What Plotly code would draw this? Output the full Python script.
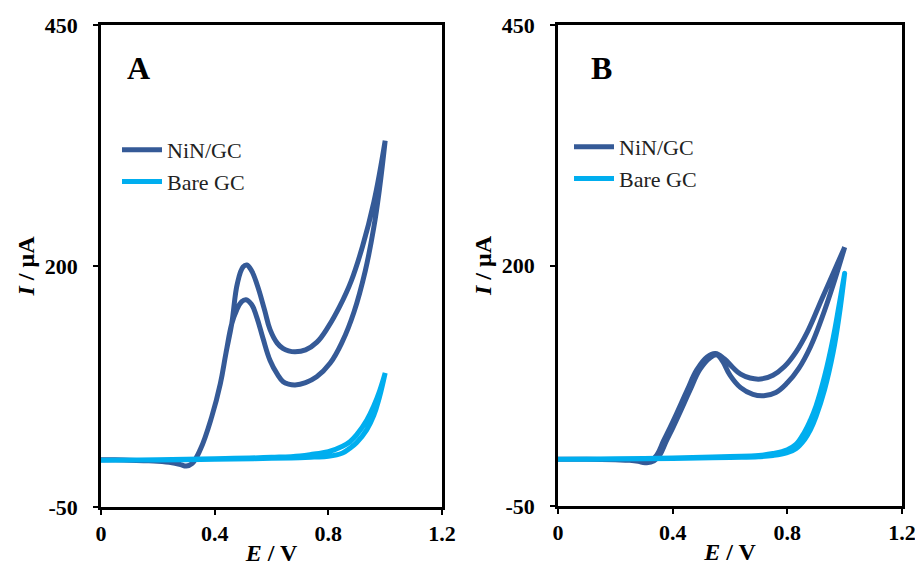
import plotly.graph_objects as go

# ---------------- Panel A data ----------------
# NiN/GC forward scan (0 -> 1.0 V), upper branch
A_nin_fwd_E = [0, 0.05, 0.1, 0.15, 0.2, 0.25, 0.28, 0.30, 0.32, 0.35, 0.39, 0.42, 0.44, 0.46,
               0.48, 0.50, 0.513, 0.53, 0.55, 0.575, 0.595, 0.62, 0.64, 0.66, 0.683, 0.72, 0.76,
               0.80, 0.84, 0.88, 0.92, 0.96, 1.0]
A_nin_fwd_I = [-1, -1, -1.5, -2, -2.5, -4, -6, -7.5, -5, 10, 44, 78, 110, 140,
               182, 199, 201, 195, 180, 155, 134, 120, 114.6, 112, 111, 113, 121,
               137, 158, 184, 220, 266, 330]
# NiN/GC reverse scan (1.0 -> 0 V), lower branch (listed in ascending E)
A_nin_rev_E = [0, 0.05, 0.1, 0.15, 0.2, 0.25, 0.28, 0.30, 0.32, 0.35, 0.39, 0.42, 0.44, 0.46,
               0.477, 0.495, 0.51, 0.53, 0.548, 0.57, 0.595, 0.62, 0.641, 0.66, 0.683, 0.72,
               0.759, 0.806, 0.85, 0.89, 0.93, 0.96, 0.98, 1.0]
A_nin_rev_I = [-1, -1, -1.5, -2, -2.5, -4, -6, -7.5, -5, 10, 44, 78, 110, 140,
               154, 163, 165, 160, 147, 125, 102, 88, 80, 77.5, 76.6, 79,
               85, 99, 122, 152, 195, 240, 280, 330]
# Bare GC
A_bare_E = [0, 0.2, 0.4, 0.6, 0.7, 0.75, 0.8, 0.85, 0.876, 0.9, 0.935, 0.96, 0.98, 1.0]
A_bare_fwd_I = [-1.5, -1.2, -0.5, 0.5, 1.2, 1.8, 2.5, 6, 11, 17, 30, 45, 64, 89]
A_bare_rev_I = [-1.5, -1.0, 0.0, 1.5, 3, 5, 7.3, 13, 17.7, 25, 40, 55, 70, 89]

# ---------------- Panel B data ----------------
B_nin_fwd_E = [0, 0.1, 0.2, 0.25, 0.28, 0.304, 0.325, 0.345, 0.368, 0.39, 0.415, 0.45, 0.485,
               0.52, 0.549, 0.58, 0.61, 0.637, 0.67, 0.707, 0.75, 0.79, 0.83, 0.87, 0.92,
               0.96, 1.0]
B_nin_fwd_I = [-1.5, -1.5, -2, -2.5, -3.5, -5, -3, 3, 17.7, 31, 47, 70, 92,
               105, 108.6, 103, 94, 87, 83, 82, 86, 95, 110, 131, 165,
               192, 219]
B_nin_rev_E = [0, 0.1, 0.2, 0.25, 0.28, 0.31, 0.335, 0.355, 0.378, 0.40, 0.425, 0.46, 0.495,
               0.53, 0.555, 0.575, 0.60, 0.637, 0.68, 0.718, 0.76, 0.80, 0.84, 0.88, 0.92,
               0.96, 1.0]
B_nin_rev_I = [-1.5, -1.5, -2, -2.5, -3.5, -5, -3, 3, 17.7, 31, 47, 70, 92,
               104, 107, 100, 86, 73, 66, 64.6, 68, 78, 93, 115, 145,
               180, 219]
B_bare_E = [0, 0.2, 0.4, 0.6, 0.7, 0.75, 0.8, 0.83, 0.86, 0.88, 0.9, 0.93, 0.96, 0.98, 1.0]
B_bare_fwd_I = [-1.5, -1.2, -0.5, 0.5, 1.2, 2.5, 5.5, 9.5, 19, 29, 43, 71, 110, 146, 192]
B_bare_rev_I = [-1.5, -1.0, 0.0, 1.5, 2.5, 4.5, 8.5, 14, 27, 39, 54, 85, 125, 158, 192]

# ---------------- Axis ticks / labels ----------------
x_ticks = [0, 0.4, 0.8, 1.2]
x_ticktext = ["0", "0.4", "0.8", "1.2"]
y_ticks = [-50, 200, 450]
y_ticktext = ["-50", "200", "450"]
series_names = ["NiN/GC", "Bare GC"]
panel_labels = ["A", "B"]

NIN_COLOR = "#355A97"
BARE_COLOR = "#00AEEF"
FONT = "Liberation Serif"


def loop(fwd_E, fwd_I, rev_E, rev_I):
    return list(fwd_E) + list(rev_E[::-1]), list(fwd_I) + list(rev_I[::-1])


fig = go.Figure()

panels = [
    ("x", "y", "legend", (A_nin_fwd_E, A_nin_fwd_I, A_nin_rev_E, A_nin_rev_I),
     (A_bare_E, A_bare_rev_I, A_bare_E, A_bare_fwd_I)),
    ("x2", "y2", "legend2", (B_nin_fwd_E, B_nin_fwd_I, B_nin_rev_E, B_nin_rev_I),
     (B_bare_E, B_bare_rev_I, B_bare_E, B_bare_fwd_I)),
]

for xa, ya, lg, nin, bare in panels:
    ex, iy = loop(*nin)
    fig.add_trace(go.Scatter(x=ex, y=iy, mode="lines", name=series_names[0],
                             line=dict(color=NIN_COLOR, width=5, shape="spline", smoothing=1.2),
                             xaxis=xa, yaxis=ya, legend=lg))
    ex, iy = loop(*bare)
    fig.add_trace(go.Scatter(x=ex, y=iy, mode="lines", name=series_names[1],
                             line=dict(color=BARE_COLOR, width=5, shape="spline", smoothing=1.2),
                             xaxis=xa, yaxis=ya, legend=lg))

W, H = 915, 568
axis_common = dict(
    showline=True, linecolor="black", linewidth=2.5, mirror=True,
    ticks="outside", ticklen=5, tickwidth=2, tickcolor="black",
    showgrid=False, zeroline=False, automargin=False,
    tickfont=dict(family=FONT, size=22, color="black", weight="bold"),
)

xaxis = dict(axis_common, range=[0, 1.2], tickvals=x_ticks, ticktext=x_ticktext,
             ticklabeloverflow="allow",
             title=dict(text="<i>E</i> / V", font=dict(family=FONT, size=24, color="black", weight="bold"),
                        standoff=0))
yaxis = dict(axis_common, range=[-50, 450], tickvals=y_ticks, ticktext=y_ticktext,
             ticklabelstandoff=11,
             title=dict(text="<i>I</i> / μA", font=dict(family=FONT, size=24, color="black", weight="bold"),
                        standoff=4))

fig.update_layout(
    width=W, height=H,
    margin=dict(l=0, r=0, t=0, b=0, autoexpand=False),
    paper_bgcolor="white", plot_bgcolor="white",
    xaxis=dict(xaxis, domain=[101 / W, 442 / W], anchor="y"),
    yaxis=dict(yaxis, domain=[(H - 507) / H, (H - 25) / H], anchor="x"),
    xaxis2=dict(xaxis, domain=[558 / W, 902 / W], anchor="y2"),
    yaxis2=dict(yaxis, domain=[(H - 506) / H, (H - 25) / H], anchor="x2"),
    legend=dict(x=117 / W, y=(H - 129) / H, xanchor="left", yanchor="top",
                bgcolor="rgba(0,0,0,0)", font=dict(family=FONT, size=22, color="#222"),
                itemwidth=40, tracegroupgap=0),
    legend2=dict(x=569 / W, y=(H - 126) / H, xanchor="left", yanchor="top",
                 bgcolor="rgba(0,0,0,0)", font=dict(family=FONT, size=22, color="#222"),
                 itemwidth=40, tracegroupgap=0),
    showlegend=True,
)

fig.add_annotation(text=panel_labels[0], xref="paper", yref="paper", x=138 / W, y=(H - 68) / H,
                   xanchor="center", yanchor="middle",
                   showarrow=False, font=dict(family=FONT, size=32, color="black", weight="bold"))
fig.add_annotation(text=panel_labels[1], xref="paper", yref="paper", x=601 / W, y=(H - 68) / H,
                   xanchor="center", yanchor="middle",
                   showarrow=False, font=dict(family=FONT, size=32, color="black", weight="bold"))

fig.write_html("out.html", config={"displayModeBar": False},
               post_script="document.body.style.margin='0';")
